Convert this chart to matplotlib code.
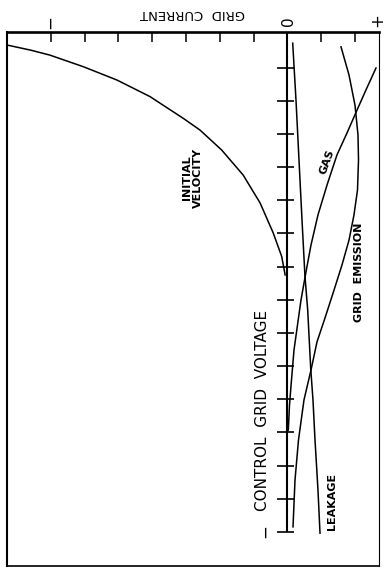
import numpy as np
import matplotlib
matplotlib.use('Agg')
import matplotlib.pyplot as plt

# Grid current vs control grid voltage (drawn rotated, as in the scanned figure)
# x = grid current (tick units), y = control grid voltage (tick units)

# Initial velocity current
iv_current = [-8.28, -7.60, -7.03, -6.04, -5.05, -4.07, -3.08, -2.59, -1.95, -1.31, -0.81, -0.42, -0.17, -0.07]
iv_voltage = [6.68, 6.53, 6.38, 6.03, 5.63, 5.13, 4.47, 4.12, 3.52, 2.76, 1.92, 1.01, 0.30, -0.25]

# Leakage current
leak_current = [0.154, 0.251, 0.340, 0.429, 0.518, 0.598, 0.686, 0.754, 0.814, 0.902, 0.962]
leak_voltage = [6.74, 5.03, 3.22, 1.41, -0.31, -1.31, -3.06, -4.02, -5.23, -6.74, -8.04]

# Gas current
gas_current = [2.618, 2.322, 2.056, 1.760, 1.464, 1.169, 0.902, 0.695, 0.547, 0.399, 0.296, 0.192, 0.118, 0.059, 0.024]
gas_voltage = [5.99, 5.33, 4.72, 4.03, 3.37, 2.46, 1.56, 0.65, -0.16, -1.01, -1.76, -2.52, -3.42, -4.18, -4.93]

# Grid emission current
emis_current = [1.583, 1.820, 1.997, 2.086, 2.101, 2.071, 1.967, 1.820, 1.612, 1.376, 1.109, 0.873, 0.695, 0.488, 0.325, 0.222, 0.163]
emis_voltage = [6.63, 5.78, 4.87, 3.97, 3.22, 2.31, 1.56, 0.80, 0.05, -0.71, -1.55, -2.27, -3.12, -4.02, -5.23, -6.44, -7.85]

# Axis ticks
current_ticks = [-7, -6, -5, -4, -3, -2, -1, 1, 2]
voltage_ticks = list(range(-8, 7))

fig = plt.figure(figsize=(3.92, 5.75), dpi=100)
ax = fig.add_axes([0.01913, 0.01565, 0.94898, 0.92783])
ax.set_xlim(-8.284, 2.722)
ax.set_ylim(-9.03, 7.062)

# Frame
for side, lw in [('top', 1.9), ('left', 1.5), ('bottom', 1.2), ('right', 0.8)]:
    ax.spines[side].set_linewidth(lw)
    ax.spines[side].set_color('black')

ax.xaxis.tick_top()
ax.set_xticks(current_ticks)
ax.tick_params(axis='x', direction='in', length=7.5, width=1.1, labeltop=False, labelbottom=False)
ax.set_yticks([])

# Voltage axis at zero current
ax.plot([0, 0], [-8.0, 7.062], color='black', linewidth=1.5, solid_capstyle='butt')
ax.hlines(voltage_ticks, -0.31, 0.19, color='black', linewidth=1.2)

# Curves
style = dict(color='black', linewidth=1.1)
ax.plot(iv_current, iv_voltage, **style)
ax.plot(leak_current, leak_voltage, **style)
ax.plot(gas_current, gas_voltage, **style)
ax.plot(emis_current, emis_voltage, **style)

# Labels
txt = dict(color='black', ha='center', va='center', clip_on=False)
ax.text(-2.80, 7.65, 'GRID  CURRENT', rotation=180, fontsize=9.5, **txt)
ax.text(-7.03, 7.38, '\u2212', rotation=90, fontsize=12, **txt)
ax.text(0.015, 7.41, '0', rotation=90, fontsize=11, **txt)
ax.text(2.66, 7.45, '+', rotation=90, fontsize=12, **txt)

ax.text(-0.666, -7.98, '\u2212', rotation=90, fontsize=12, **txt)
ax.text(-0.754, -4.33, 'CONTROL  GRID  VOLTAGE', rotation=90, fontsize=11, **txt)

ax.text(1.317, -7.08, 'LEAKAGE', rotation=90, fontsize=8, fontweight='bold', **txt)
ax.text(2.115, -0.17, 'GRID  EMISSION', rotation=90, fontsize=8, fontweight='bold', **txt)
ax.text(1.160, 3.16, 'GAS', rotation=70, fontsize=8, fontweight='bold', **txt)
ax.text(-2.80, 2.67, 'INITIAL\nVELOCITY', rotation=90, fontsize=8, fontweight='bold',
        multialignment='center', linespacing=1.1, **txt)

fig.savefig('out.png', dpi=100)
